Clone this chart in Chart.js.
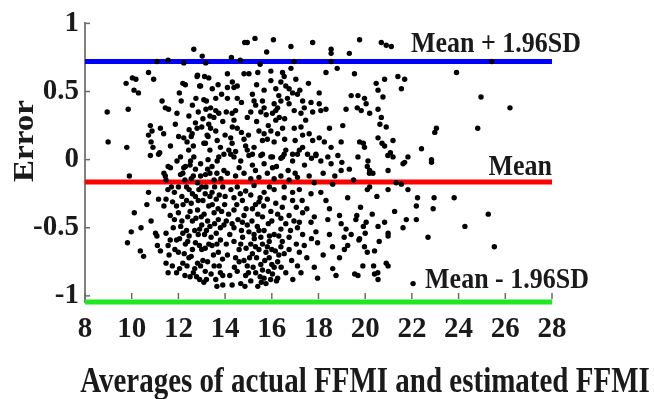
<!DOCTYPE html>
<html lang="en">
<head>
<meta charset="utf-8">
<script src="https://cdn.jsdelivr.net/npm/chart.js@4.4.1/dist/chart.umd.min.js"></script>
<style>
    body {margin:0; background:#fff}
    .reportGraph {width:654px; height:399px}
</style>
</head>
<body>

<div class="reportGraph"><canvas id="canvas" width="654" height="399"></canvas></div>

<script type="text/javascript">
'use strict';

var xTicks = [8, 10, 12, 14, 16, 18, 20, 22, 24, 26, 28];
var yTicks = [-1, -0.5, 0, 0.5, 1];
var limitNames = ['Mean + 1.96SD', 'Mean', 'Mean - 1.96SD'];
var limitValues = [0.72, -0.165, -1.045];
var limitColors = ['#0000ff', '#ff0000', '#1ee81e'];
var xTitle = 'Averages of actual FFMI and estimated FFMI';
var yTitle = 'Error';

// [average, error]
var points = [
    // left edge, x < 11.3
    [8.95,0.35],[8.99,0.13],[9.76,0.56],[9.85,0.37],[9.79,0.09],[9.9,-0.12],[10.03,0.60],[10.1,0.51],[10.18,0.59],[10.29,0.49],
    [10.11,-0.39],[9.98,-0.53],[9.82,-0.61],[10.4,-0.50],[10.37,-0.67],[10.51,-0.71],[10.83,-0.45],[10.72,-0.24],[10.65,-0.33],[11.15,-0.29],
    [11.08,-0.56],[11.23,-0.67],[10.72,0.64],[10.94,0.59],[11.08,0.72],[10.8,0.25],[10.87,0.21],[10.72,0.18],[11.23,0.23],[11.37,0.19],
    [10.83,0.13],[10.91,0.09],[11.15,0.04],[10.8,0.03],[11.2,0.05],[11.02,-0.54],[11.1,-0.63],
    // 11.3 - 12.5
    [11.3,0.43],[11.44,0.38],[11.58,0.37],[11.56,0.73],[11.66,0.10],[11.94,0.34],[12.04,0.49],[12.12,0.43],[12.3,0.55],[11.87,0.26],
    [12.01,0.17],[12.23,0.16],[12.37,0.13],[12.09,0.02],[12.44,0.07],[12.23,0.71],[12.19,0.56],[12.46,0.22],[12.55,0.17],[12.73,0.27],
    [11.38,-0.10],[11.47,-0.15],[11.56,-0.05],[11.44,-0.12],[11.47,-0.29],[11.38,-0.34],[11.65,-0.41],[11.47,-0.54],[11.65,-0.59],[11.56,-0.63],
    [11.47,-0.76],[11.56,-0.83],[11.74,-0.78],[11.66,-0.06],[11.83,-0.24],[11.92,-0.34],[12.0,-0.39],[11.83,-0.44],[12.1,-0.49],[12.19,-0.54],
    [11.92,-0.59],[12.0,-0.68],[12.19,-0.76],[11.92,-0.83],[12.28,-0.85],[11.94,-0.01],[12.09,-0.11],[12.23,-0.06],[12.0,-0.20],[12.19,-0.10],
    [12.28,-0.15],[11.7,-0.20],[11.78,-0.50],[11.6,-0.70],[11.85,-0.66],[12.05,-0.80],[12.35,-0.30],[12.4,-0.42],[12.3,-0.62],[12.45,-0.72],
    [12.15,-0.27],[12.35,-0.20],[12.2,-0.33],[12.15,-0.45],[11.75,-0.31],[11.55,-0.22],[12.05,-0.58],[12.35,-0.52],[12.3,-0.05],
    // 12.5 - 13.2
    [12.52,-0.01],[12.73,-0.07],[12.64,-0.12],[12.82,-0.17],[12.46,-0.22],[12.73,-0.27],[12.55,-0.32],[12.82,-0.37],[12.6,-0.45],[12.91,-0.51],
    [12.46,-0.56],[12.73,-0.61],[13.0,-0.66],[12.55,-0.71],[12.82,-0.76],[12.37,-0.78],[12.64,-0.83],[12.91,-0.88],[13.09,-0.90],[12.95,-0.03],
    [13.16,-0.11],[12.64,0.10],[12.82,0.62],[12.91,0.54],[13.09,0.44],[13.18,0.37],[13.0,0.24],[13.27,0.17],[13.09,0.12],[12.8,0.23],
    [12.59,0.19],[12.66,0.02],[12.88,-0.22],[13.05,-0.30],[12.98,-0.42],[13.12,-0.55],[12.7,-0.52],[12.9,-0.63],[13.05,-0.74],[12.78,-0.86],
    [13.15,-0.82],[12.6,-0.25],[12.85,-0.30],[13.1,-0.40],[12.5,-0.38],[12.75,-0.43],[13.0,-0.48],[12.95,-0.12],[13.15,-0.25],[12.66,0.81],
    [12.8,0.61],[13.12,0.61],[12.95,0.54],[13.02,0.76],[13.17,0.71],[12.45,0.32],[12.6,0.40],[12.85,0.35],[13.05,0.30],[12.75,0.45],
    [12.55,-0.14],[12.4,-0.60],[12.25,-0.69],[12.6,-0.66],[12.85,-0.55],[12.7,-0.80],[12.95,-0.78],[13.15,-0.65],[12.5,-0.86],[12.5,-0.04],
    [13.0,-0.20],
    // 13.2 - 14.0
    [13.3,0.26],[13.23,0.18],[13.16,0.12],[13.38,0.23],[13.6,0.21],[13.66,0.14],[13.8,0.09],[13.95,0.04],[13.73,0.02],[13.2,0.43],
    [13.38,0.38],[13.6,0.36],[13.73,0.34],[13.52,0.31],[13.35,0.32],[13.35,0.07],[13.27,0.0],[13.44,-0.05],[13.35,-0.10],[13.53,-0.15],
    [13.18,-0.20],[13.44,-0.24],[13.62,-0.29],[13.3,-0.34],[13.53,-0.39],[13.71,-0.44],[13.35,-0.49],[13.62,-0.54],[13.8,-0.59],[13.44,-0.63],
    [13.71,-0.68],[13.89,-0.73],[13.53,-0.78],[13.8,-0.83],[13.6,-0.88],[13.9,-0.92],[13.66,-0.01],[13.95,-0.08],[13.82,-0.14],[13.9,-0.20],
    [13.75,-0.26],[13.98,-0.33],[13.85,-0.38],[13.95,-0.48],[13.3,-0.62],[13.25,-0.75],[13.4,-0.84],[13.6,0.45],[13.9,0.28],[13.5,-0.70],
    [13.25,-0.45],[13.45,-0.33],[13.7,-0.36],[13.25,-0.07],[13.45,0.52],[13.3,0.60],[13.7,0.55],[13.85,0.48],[13.2,-0.52],[13.4,-0.57],
    [13.55,-0.47],[13.65,-0.62],[13.75,-0.78],[13.9,-0.85],[13.55,-0.20],[13.65,-0.10],[13.8,-0.50],[13.35,-0.27],[13.65,-0.93],[13.2,-0.88],
    // 14.0 - 14.6 upper
    [14.1,0.53],[14.1,0.45],[14.38,0.53],[14.52,0.45],[14.1,0.63],[14.3,0.34],[14.38,0.29],[14.16,0.07],[14.3,0.12],[14.52,0.23],
    [14.27,0.75],[14.31,0.57],[14.52,0.54],[14.45,0.36],[14.31,0.24],[14.24,0.16],[14.38,0.02],[14.24,0.04],[14.0,0.18],[14.05,0.35],
    [14.45,0.06],
    // 14.6 - 18 upper
    [14.84,0.86],[14.95,0.86],[15.28,0.89],[16.07,0.88],[15.78,0.79],[16.82,0.83],[17.75,0.86],[15.5,0.70],[16.96,0.72],[16.82,0.67],
    [14.81,0.63],[15.02,0.63],[15.96,0.65],[15.96,0.58],[16.46,0.64],[16.53,0.61],[16.39,0.57],[15.67,0.51],[16.17,0.52],[16.6,0.54],
    [16.74,0.52],[16.89,0.49],[17.03,0.59],[17.1,0.48],[17.57,0.56],[15.17,0.48],[15.24,0.43],[15.31,0.40],[15.1,0.35],[14.95,0.31],
    [15.6,0.43],[15.67,0.38],[15.53,0.35],[15.76,0.33],[16.1,0.41],[16.17,0.36],[16.25,0.38],[16.03,0.34],[16.39,0.43],[16.32,0.31],
    [16.17,0.29],[16.67,0.45],[16.74,0.41],[16.96,0.36],[17.25,0.34],[17.32,0.43],[17.39,0.38],[17.68,0.42],[17.75,0.35],[14.81,0.15],
    [14.88,0.10],[14.95,0.07],[15.17,0.04],[15.45,0.21],[15.67,0.19],[15.6,0.14],[15.81,0.15],[15.96,0.21],[16.25,0.19],[16.1,0.13],
    [16.46,0.23],[15.24,0.09],[15.6,0.04],[16.03,0.02],[16.46,0.02],[16.6,0.07],[16.89,0.04],[16.96,0.23],[17.25,0.24],[17.32,0.18],
    [17.6,0.19],[17.75,0.14],[17.18,0.07],[17.32,0.09],[17.53,0.04],[17.89,0.04],[14.7,0.20],[15.0,0.18],[15.35,0.28],[15.85,0.25],
    [16.55,0.30],[16.55,0.15],[17.0,0.14],[17.45,0.29],[17.2,0.51],[16.3,0.47],[15.35,0.55],[14.7,0.42],[14.65,0.73],[15.4,0.64],
    // 18 - 22 upper
    [18.54,0.81],[18.54,0.78],[19.32,0.78],[19.76,0.88],[20.69,0.86],[20.9,0.84],[18.54,0.72],[18.32,0.64],[18.8,0.67],[19.54,0.63],
    [18.03,0.49],[20.47,0.56],[20.55,0.51],[20.83,0.59],[18.03,0.41],[18.1,0.36],[18.32,0.37],[19.18,0.37],[19.4,0.47],[19.69,0.47],
    [19.66,0.38],[19.83,0.36],[19.97,0.45],[20.04,0.41],[20.19,0.34],[20.55,0.37],[20.69,0.31],[20.9,0.24],[18.03,0.16],[18.25,0.13],
    [18.54,0.09],[18.47,0.23],[19.04,0.25],[18.97,0.13],[19.76,0.13],[19.97,0.09],[20.55,0.16],[20.83,0.10],[20.97,0.03],[21.12,0.83],
    [21.4,0.61],[21.69,0.59],[21.55,0.52],[20.76,0.46],[20.63,0.26],[20.72,0.12],[21.08,0.05],[21.19,0.14],[22.41,0.08],[22.84,0.0],
    [21.19,0.02],[21.83,0.02],[23.05,0.23],[22.98,0.20],[24.82,0.23],[24.96,0.46],[26.2,0.38],[23.91,0.64],[25.42,0.72],
    // 14 - 21 lower
    [14.67,-0.01],[15.02,0.03],[15.17,-0.04],[15.53,0.03],[15.67,-0.03],[15.96,0.02],[16.03,-0.06],[16.39,0.01],[16.53,0.04],[16.89,-0.01],
    [17.1,0.04],[17.89,0.03],[18.1,-0.01],[18.4,0.02],[18.54,-0.03],[18.83,0.03],[18.97,-0.08],[19.32,-0.07],[19.69,0.02],[20.12,-0.01],
    [20.19,-0.08],[20.33,-0.10],[20.98,-0.08],
    [14.45,-0.12],[14.81,-0.10],[15.1,-0.14],[15.45,-0.13],[15.81,-0.10],[16.1,-0.14],[16.39,-0.12],[16.74,-0.15],[17.1,-0.13],[17.82,-0.17],
    [18.61,-0.18],[20.19,-0.20],[20.98,-0.22],[14.52,-0.20],[14.88,-0.23],[15.24,-0.19],[15.67,-0.24],[16.1,-0.22],[16.53,-0.20],[16.89,-0.24],
    [17.18,-0.22],
    [14.38,-0.28],[14.74,-0.30],[15.1,-0.26],[15.45,-0.31],[15.81,-0.29],[16.17,-0.32],[16.53,-0.28],[16.89,-0.30],[17.68,-0.25],[18.1,-0.24],
    [18.32,-0.30],[18.47,-0.36],[19.25,-0.28],[17.32,-0.39],[17.82,-0.42],[18.4,-0.44],[18.9,-0.41],[14.38,-0.37],[14.81,-0.41],[15.17,-0.36],
    [15.6,-0.42],[15.96,-0.38],[16.39,-0.43],[16.74,-0.41],[17.18,-0.46],[14.74,-0.46],[15.38,-0.49],
    [14.38,-0.50],[15.02,-0.53],[15.24,-0.55],[15.53,-0.57],[15.67,-0.52],[15.89,-0.60],[16.1,-0.55],[16.39,-0.51],[16.74,-0.57],[17.1,-0.50],
    [17.32,-0.55],[17.68,-0.46],[17.89,-0.53],[18.47,-0.55],[18.97,-0.47],[19.18,-0.51],[19.4,-0.55],[19.76,-0.58],[20.04,-0.46],[20.55,-0.49],
    [20.83,-0.46],[20.98,-0.56],[14.38,-0.60],[14.67,-0.62],[15.1,-0.62],[15.45,-0.66],[15.81,-0.64],[16.39,-0.64],[16.74,-0.66],[17.18,-0.68],
    [17.39,-0.63],[17.96,-0.61],[19.11,-0.66],[19.25,-0.63],[19.97,-0.64],[20.4,-0.67],
    [14.45,-0.72],[14.81,-0.74],[15.17,-0.69],[15.53,-0.77],[15.89,-0.72],[16.25,-0.75],[16.53,-0.69],[17.1,-0.78],[17.25,-0.83],[17.82,-0.79],
    [17.96,-0.87],[18.61,-0.80],[18.9,-0.72],[19.69,-0.85],[20.4,-0.84],[20.55,-0.88],[14.52,-0.82],[14.88,-0.85],[15.31,-0.83],[15.67,-0.87],
    [16.03,-0.84],[14.67,-0.91],[15.1,-0.89],[16.25,-0.87],
    [14.2,-0.55],[14.6,-0.66],[14.95,-0.78],[15.35,-0.72],[15.6,-0.81],[15.75,-0.68],[16.0,-0.77],[15.25,-0.58],[15.4,-0.40],[15.85,-0.47],
    [14.55,-0.44],[14.9,-0.36],[15.95,-0.88],[16.15,-0.67],[15.55,-0.90],[14.75,-0.57],[15.15,-0.45],[16.3,-0.56],[14.1,-0.70],[14.2,-0.85],
    [14.05,-0.62],[14.15,-0.40],[14.25,-0.22],[14.1,-0.10],[14.6,-0.06],[15.3,-0.08],[16.2,-0.05],[16.7,-0.08],[17.0,-0.10],[17.4,-0.04],
    [17.6,-0.12],[17.7,0.01],[18.2,-0.10],[18.7,-0.12],[19.0,-0.02],[19.5,-0.15],[20.5,-0.27],[19.8,-0.35],[20.3,-0.40],[19.6,-0.44],
    [19.1,-0.57],[18.6,-0.64],[18.2,-0.70],[18.75,-0.85],[19.9,-0.78],[20.6,-0.60],[17.5,-0.72],[17.7,-0.58],[17.05,-0.62],[16.85,-0.74],
    [16.6,-0.83],[16.4,-0.79],[16.9,-0.88],[17.3,-0.30],[17.5,-0.36],[17.05,-0.35],[19.92,0.12],[20.09,-0.05],[20.18,-0.10],[20.09,-0.22],
    [19.64,-0.41],[19.92,-0.49],[20.0,-0.54],[19.73,-0.59],[20.09,-0.68],[20.36,-0.78],[20.54,-0.83],[20.9,-0.76],[19.55,-0.84],
    [14.0,-0.27],[14.05,-0.45],[14.3,-0.47],[14.5,-0.33],[14.65,-0.25],[14.7,-0.52],[14.9,-0.65],[14.95,-0.48],[15.05,-0.72],[15.2,-0.79],
    [15.3,-0.64],[15.45,-0.52],[15.5,-0.86],[15.6,-0.62],[15.7,-0.74],[15.85,-0.82],[15.9,-0.56],[16.0,-0.66],[16.1,-0.79],[16.2,-0.89],
    [16.3,-0.70],[16.45,-0.60],[15.3,-0.33],[15.5,-0.28],[15.65,-0.34],[15.9,-0.20],[16.0,-0.45],[16.25,-0.40],[16.45,-0.35],[16.6,-0.47],
    [16.8,-0.52],[16.95,-0.45],[14.4,-0.79],[14.6,-0.75],[14.85,-0.93],[15.0,-0.83],[15.4,-0.93],[15.75,-0.91],[14.3,-0.92],
    // right side lower
    [21.62,-0.03],[21.69,-0.02],[22.84,-0.02],[21.33,-0.17],[21.55,-0.18],[21.83,-0.22],[22.24,-0.28],[22.95,-0.28],[23.81,-0.28],[22.19,-0.34],
    [22.91,-0.36],[21.26,-0.38],[20.98,-0.54],[21.76,-0.44],[21.62,-0.50],[22.19,-0.44],[22.69,-0.57],[24.27,-0.49],[25.27,-0.40],[25.53,-0.64],
    [20.98,-0.78],[22.05,-0.91]
];

var serif = '"Liberation Serif", "Times New Roman", serif';

// text drawn with a small stretch, the source picture is a bit taller than wide
function stretchedText(ctx, text, x, y, font, align, sx, sy, angle) {
    ctx.save();
    ctx.translate(x, y);
    if (angle) ctx.rotate(angle);
    ctx.scale(sx, sy);
    ctx.font = font;
    ctx.textAlign = align;
    ctx.textBaseline = 'alphabetic';
    ctx.fillStyle = '#1a1a1a';
    ctx.fillText(text, 0, 0);
    ctx.restore();
}

var decorations = {
    id: 'decorations',
    afterDatasetsDraw: function(chart) {
        var ctx = chart.ctx;
        var xs = chart.scales.x, ys = chart.scales.y;
        var area = chart.chartArea;
        // small inner tick marks
        ctx.save();
        ctx.strokeStyle = '#6a6a6a';
        ctx.lineWidth = 1.5;
        yTicks.forEach(function(v) {
            var py = ys.getPixelForValue(v);
            ctx.beginPath();
            ctx.moveTo(area.left, py);
            ctx.lineTo(area.left + 5, py);
            ctx.stroke();
        });
        xTicks.forEach(function(v) {
            var px = xs.getPixelForValue(v);
            ctx.beginPath();
            ctx.moveTo(px, area.bottom - 3);
            ctx.lineTo(px, area.bottom - 9);
            ctx.stroke();
        });
        ctx.restore();

        // limit line labels
        var lf = 'bold 26px ' + serif;
        var right = xs.getPixelForValue(28);
        stretchedText(ctx, limitNames[0], right + 29, ys.getPixelForValue(limitValues[0]) - 10, lf, 'right', 1, 1.12);
        stretchedText(ctx, limitNames[1], right, ys.getPixelForValue(limitValues[1]) - 7, lf, 'right', 1, 1.12);
        stretchedText(ctx, limitNames[2], right + 37, ys.getPixelForValue(limitValues[2]) - 14, lf, 'right', 1, 1.12);

        // axis titles
        stretchedText(ctx, xTitle, 365, 392, 'bold 29px ' + serif, 'center', 1, 1.22);
        stretchedText(ctx, yTitle, 33, 141, 'bold 30px ' + serif, 'center', 1.1, 1, -Math.PI / 2);
    }
};

function lineSet(i) {
    return {
        type: 'line',
        data: [{x: xTicks[0], y: limitValues[i]}, {x: xTicks[xTicks.length - 1], y: limitValues[i]}],
        borderColor: limitColors[i],
        borderWidth: 5,
        pointRadius: 0,
        clip: false,
        order: 1
    };
}

function drawGraphs() {
    new Chart(document.getElementById('canvas'), {
        type: 'scatter',
        data: {
            datasets: [{
                data: points.map(function(p) { return {x: p[0], y: p[1]}; }),
                pointRadius: 2.7,
                pointBackgroundColor: '#000',
                pointBorderWidth: 0,
                order: 0
            }, lineSet(0), lineSet(1), lineSet(2)]
        },
        options: {
            responsive: false,
            animation: false,
            layout: {padding: {left: 0, right: 102, top: 23, bottom: 0}},
            plugins: {legend: {display: false}, tooltip: {enabled: false}},
            scales: {
                x: {
                    type: 'linear',
                    min: 8, max: 28,
                    afterBuildTicks: function(s) { s.ticks = xTicks.map(function(v) { return {value: v}; }); },
                    afterFit: function(s) { s.height = 97; },
                    grid: {display: false, drawTicks: false},
                    border: {display: false},
                    ticks: {
                        padding: 10,
                        color: '#1a1a1a',
                        maxRotation: 0,
                        font: {family: serif, size: 29, weight: 'bold'},
                        callback: function(v) { return String(v); }
                    }
                },
                y: {
                    min: -1.045, max: 1,
                    afterBuildTicks: function(s) { s.ticks = yTicks.map(function(v) { return {value: v}; }); },
                    afterFit: function(s) { s.width = 85; },
                    grid: {display: false, drawTicks: false},
                    border: {display: true, color: '#808080', width: 2},
                    ticks: {
                        padding: 6,
                        color: '#1a1a1a',
                        font: {family: serif, size: 29, weight: 'bold'},
                        callback: function(v) { return String(v); }
                    }
                }
            }
        },
        plugins: [decorations]
    });
}
window.onload = function() {
    drawGraphs();
};
</script>
</body>
</html>
